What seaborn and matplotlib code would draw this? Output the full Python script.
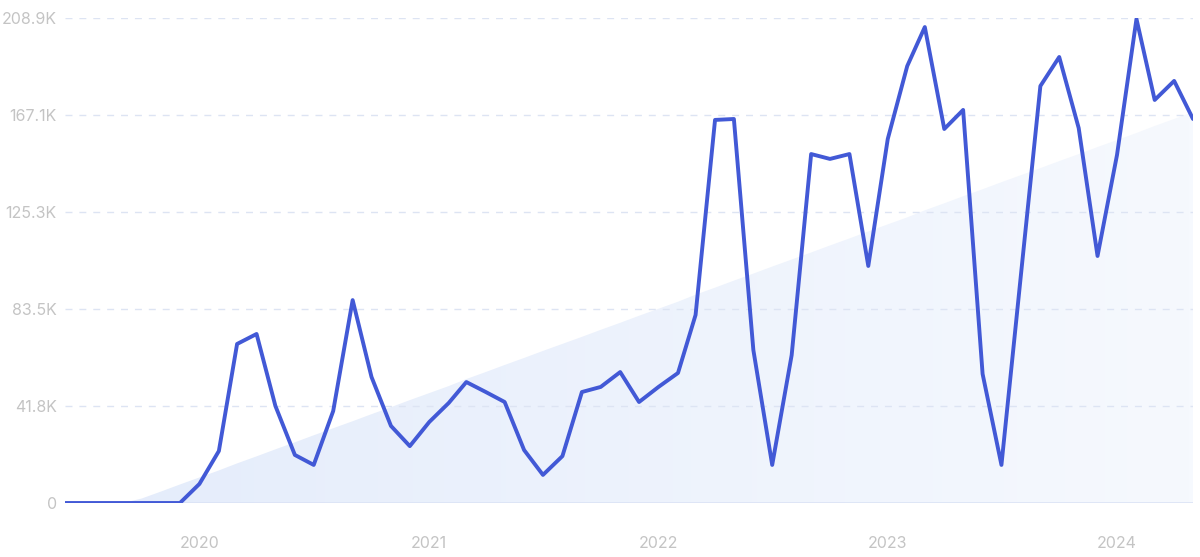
import numpy as np
import pandas as pd
import matplotlib
matplotlib.use("Agg")
import matplotlib.pyplot as plt
import matplotlib.dates as mdates
import matplotlib.patches as mpatches
from matplotlib.colors import LinearSegmentedColormap
import seaborn as sns

# ---- data (monthly, Jun 2019 - May 2024), values in thousands ----
months = pd.date_range("2019-06-01", periods=60, freq="MS")
values_k = [
    0, 0, 0, 0, 0, 0, 0,
    8.2, 22.4, 68.5, 72.8, 41.8, 20.7, 16.4, 39.6, 87.4, 54.3, 33.2, 24.5,
    34.9, 43.1, 52.1, 47.8, 43.5, 22.8, 12.1, 20.2, 47.8, 50.0, 56.4, 43.5,
    50.0, 56.0, 81.0, 165.0, 165.4, 65.9, 16.4, 63.7, 150.3, 148.2, 150.3, 102.1,
    156.8, 188.2, 205.0, 161.1, 169.3, 55.6, 16.4, 98.2, 179.6, 192.1, 161.5, 106.4,
    149.9, 208.5, 173.6, 181.8, 165.4,
]
ytick_values = [0, 41.78, 83.56, 125.34, 167.12, 208.9]
ytick_labels = ["0", "41.8K", "83.5K", "125.3K", "167.1K", "208.9K"]
xtick_years = [2020, 2021, 2022, 2023, 2024]

df = pd.DataFrame({"month": months, "value": values_k})

sns.set_theme(style="white")
plt.rcParams["font.family"] = ["Inter", "DejaVu Sans"]

fig = plt.figure(figsize=(12, 5.57), dpi=100)
ax = fig.add_axes([65 / 1200, 1 - 503 / 557, (1193 - 65) / 1200, (503 - 18) / 557])

# trend (linear regression, clipped at zero)
idx = np.arange(len(values_k))
slope, intercept = np.polyfit(idx, values_k, 1)
trend = np.clip(slope * idx + intercept, 0, None)

xnum = mdates.date2num(df["month"])
poly = ax.fill_between(xnum, 0, trend, color="none", lw=0)
grad = np.linspace(0, 1, 256).reshape(1, -1)
cmap = LinearSegmentedColormap.from_list("g", ["#e4ecfb", "#f6f9fe"])
im = ax.imshow(grad, aspect="auto", cmap=cmap,
               extent=[xnum[0], xnum[-1], 0, 208.9], origin="lower", zorder=0.5)
path = poly.get_paths()[0]
clip = mpatches.PathPatch(path, transform=ax.transData, facecolor="none", edgecolor="none")
ax.add_patch(clip)
im.set_clip_path(clip)

# grid lines
for v in ytick_values[1:]:
    ax.axhline(v, color="#dde4f3", lw=1.0, ls=(0, (5, 5)), zorder=0.6)
ax.axhline(0, color="#dbe3f5", lw=1.2, zorder=0.6)

sns.lineplot(data=df, x="month", y="value", ax=ax, color="#4259d6",
             linewidth=2.8, zorder=3)

ax.set_xlim(xnum[0], xnum[-1])
ax.set_ylim(0, 208.9)
ax.set_yticks(ytick_values)
ax.set_yticklabels(ytick_labels)
ax.set_xticks([mdates.date2num(pd.Timestamp(f"{y}-01-01")) for y in xtick_years])
ax.set_xticklabels([str(y) for y in xtick_years])
ax.tick_params(axis="y", length=0, pad=6, labelsize=11.5, labelcolor="#c4c4c4")
ax.tick_params(axis="x", length=0, pad=24, labelsize=11.5, labelcolor="#c4c4c4")
ax.set_xlabel("")
ax.set_ylabel("")
for s in ax.spines.values():
    s.set_visible(False)
ax.set_facecolor("white")

fig.savefig("out.png", dpi=100, facecolor="white")
